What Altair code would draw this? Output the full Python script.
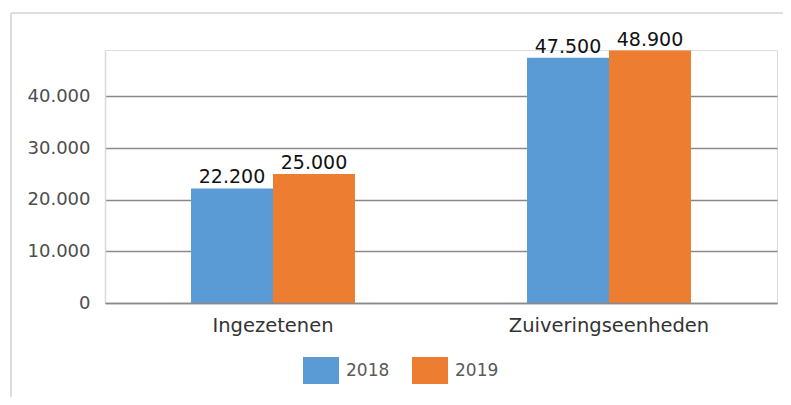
import altair as alt
import pandas as pd

categories = ["Ingezetenen", "Zuiveringseenheden"]
years = ["2018", "2019"]
values_2018 = [22200, 47500]
values_2019 = [25000, 48900]
y_ticks = [0, 10000, 20000, 30000, 40000]
colors = ["#5B9BD5", "#ED7D31"]

rows = []
for i, c in enumerate(categories):
    rows.append({"cat": c, "year": years[0], "value": values_2018[i]})
    rows.append({"cat": c, "year": years[1], "value": values_2019[i]})
df = pd.DataFrame(rows)

FONT = "DejaVu Sans"

x = alt.X("cat:N", sort=categories, title=None,
          scale=alt.Scale(paddingInner=0.512, paddingOuter=0.256),
          axis=alt.Axis(labelAngle=0, labelFont=FONT, labelFontSize=19.5,
                        labelColor="#333333", labelPadding=13.5, ticks=False,
                        labelLimit=0,
                        domainColor="#8a8a8a", domainWidth=1.3, zindex=1,
                        grid=False))
xo = alt.XOffset("year:N", sort=years, scale=alt.Scale(paddingInner=0, paddingOuter=0))
y = alt.Y("value:Q", title=None,
          scale=alt.Scale(domain=[0, 49000], nice=False, zero=True),
          axis=alt.Axis(values=y_ticks, labelFont=FONT, labelFontSize=18,
                        labelColor="#4d4d4d", labelPadding=15, ticks=False,
                        domainColor="#d9d9d9", domainWidth=1.5,
                        gridColor="#8a8a8a", gridWidth=1.3,
                        labelExpr="replace(format(datum.value, ','), ',', '.')"))

bars = alt.Chart(df).mark_bar().encode(
    x=x, xOffset=xo, y=y,
    color=alt.Color("year:N", sort=years,
                    scale=alt.Scale(domain=years, range=colors),
                    legend=alt.Legend(title=None, orient="none", direction="horizontal",
                                      legendX=202.5, legendY=307, padding=0,
                                      symbolType="M-1.333,-1L1.333,-1L1.333,1L-1.333,1Z",
                                      symbolSize=729, symbolStrokeWidth=0,
                                      symbolOpacity=1,
                                      labelFont=FONT, labelFontSize=17,
                                      labelColor="#595959", labelOffset=11.5,
                                      columnPadding=22)),
)

labels = alt.Chart(df).transform_calculate(
    lbl="replace(format(datum.value, ','), ',', '.')"
).mark_text(baseline="alphabetic", dy=-5, font=FONT, fontSize=19, color="#111111").encode(
    x=alt.X("cat:N", sort=categories), xOffset=alt.XOffset("year:N", sort=years),
    y=alt.Y("value:Q"), text="lbl:N",
)

frame_top = alt.Chart(df).mark_rule(color="#dcdcdc", strokeWidth=1.5).encode(
    x=alt.value(-94), x2=alt.value(678), y=alt.value(-37))
frame_left = alt.Chart(df).mark_rule(color="#dcdcdc", strokeWidth=1.5).encode(
    x=alt.value(-94), y=alt.value(-37), y2=alt.value(347))

chart = alt.layer(frame_top, frame_left, bars, labels).properties(
    width=672, height=253,
    autosize=alt.AutoSizeParams(type="none"),
    padding={"left": 97, "top": 42, "right": 6, "bottom": 94},
).configure_view(stroke="#d9d9d9", strokeWidth=1.5).configure(background="white")

chart.save("out.html", embed_options={"renderer": "svg", "actions": False})
